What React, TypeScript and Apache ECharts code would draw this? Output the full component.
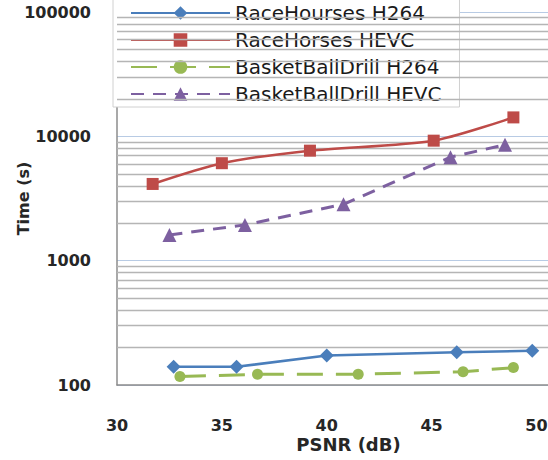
import React, { useEffect, useRef } from "react";
import * as echarts from "echarts";

const SERIES_NAMES = [
  "RaceHourses H264",
  "RaceHorses HEVC",
  "BasketBallDrill H264",
  "BasketBallDrill HEVC",
];

const RH_H264_PSNR = [32.7, 35.7, 40.0, 46.2, 49.8];
const RH_H264_TIME = [140, 140, 173, 183, 189];

const RH_HEVC_PSNR = [31.7, 35.0, 39.2, 45.1, 48.9];
const RH_HEVC_TIME = [4140, 6080, 7670, 9230, 14200];

const BB_H264_PSNR = [33.0, 36.7, 41.5, 46.5, 48.9];
const BB_H264_TIME = [117, 122, 122, 128, 138];

const BB_HEVC_PSNR = [32.5, 36.1, 40.8, 45.9, 48.5];
const BB_HEVC_TIME = [1610, 1940, 2840, 6800, 8550];

const X_TICKS = [30, 35, 40, 45, 50];
const Y_TICKS = [100, 1000, 10000, 100000];
const MINOR_GRID = [
  200, 300, 400, 500, 600, 700, 800, 900,
  2000, 3000, 4000, 5000, 6000, 7000, 8000, 9000,
  20000, 30000, 40000, 50000, 60000, 70000, 80000, 90000,
];

const COLORS = ["#4a7ebb", "#be4b48", "#98b954", "#7d60a0"];

const zip = (xs: number[], ys: number[]) => xs.map((x, i) => [x, ys[i]]);

export default function App() {
  const ref = useRef<HTMLDivElement>(null);
  useEffect(() => {
    if (!ref.current) return;
    const chart = echarts.init(ref.current, null, { renderer: "svg" });
    const tickFont = {
      fontFamily: "DejaVu Sans",
      fontWeight: "bold" as const,
      fontSize: 16,
      color: "#262626",
    };
    chart.setOption({
      animation: false,
      backgroundColor: "#ffffff",
      grid: {
        left: 117,
        top: 12,
        right: 0,
        bottom: 75,
        containLabel: false,
        outerBoundsMode: "none",
      },
      legend: {
        data: SERIES_NAMES,
        orient: "vertical",
        left: 113,
        top: -7,
        padding: [10, 18, 3, 17],
        itemWidth: 99,
        itemHeight: 17,
        itemGap: 7,
        backgroundColor: "#ffffff",
        borderColor: "#d0d0d0",
        borderWidth: 1,
        textStyle: {
          fontFamily: "DejaVu Sans",
          fontSize: 20,
          lineHeight: 20,
          color: "#1a1a1a",
        },
      },
      xAxis: {
        type: "value",
        min: X_TICKS[0],
        max: 50.55,
        interval: 5,
        name: "PSNR (dB)",
        nameLocation: "middle",
        nameGap: 50,
        nameMoveOverlap: false,
        nameTextStyle: {
          fontFamily: "DejaVu Sans",
          fontWeight: "bold",
          fontSize: 18,
          color: "#262626",
          padding: [0, 0, 0, 32],
        },
        axisLine: { show: true, lineStyle: { color: "#8c8c8c", width: 1.5 } },
        axisTick: { show: false },
        splitLine: { show: false },
        axisLabel: {
          ...tickFont,
          margin: 32,
          showMaxLabel: false,
          formatter: (v: number) => (X_TICKS.includes(v) ? String(v) : ""),
        },
      },
      yAxis: {
        type: "log",
        logBase: 10,
        min: Y_TICKS[0],
        max: Y_TICKS[Y_TICKS.length - 1],
        name: "Time (s)",
        nameLocation: "middle",
        nameGap: 86,
        nameRotate: 90,
        nameMoveOverlap: false,
        nameTextStyle: {
          fontFamily: "DejaVu Sans",
          fontWeight: "bold",
          fontSize: 16,
          color: "#262626",
        },
        axisLine: { show: true, lineStyle: { color: "#8c8c8c", width: 1.5 } },
        axisTick: { show: false },
        axisLabel: {
          ...tickFont,
          margin: 26,
          formatter: (v: number) => String(Math.round(v)),
        },
        splitLine: { show: true, lineStyle: { color: "#b8cbe4", width: 1.2 } },
      },
      series: [
        {
          name: "_minor",
          type: "line",
          data: [],
          z: 1,
          silent: true,
          markLine: {
            silent: true,
            symbol: "none",
            label: { show: false },
            lineStyle: { color: "#b5b5b5", width: 1.3, type: "solid" },
            data: MINOR_GRID.map((v) => ({ yAxis: v })),
          },
        },
        {
          name: SERIES_NAMES[0],
          type: "line",
          data: zip(RH_H264_PSNR, RH_H264_TIME),
          symbol: "diamond",
          symbolSize: 14,
          color: COLORS[0],
          lineStyle: { color: COLORS[0], width: 2.5 },
          itemStyle: { color: COLORS[0] },
          z: 5,
        },
        {
          name: SERIES_NAMES[1],
          type: "line",
          data: zip(RH_HEVC_PSNR, RH_HEVC_TIME),
          symbol: "rect",
          symbolSize: 12,
          smooth: 0.25,
          color: COLORS[1],
          lineStyle: { color: COLORS[1], width: 2.5 },
          itemStyle: { color: COLORS[1] },
          z: 5,
        },
        {
          name: SERIES_NAMES[2],
          type: "line",
          data: zip(BB_H264_PSNR, BB_H264_TIME),
          symbol: "circle",
          symbolSize: 11,
          color: COLORS[2],
          lineStyle: { color: COLORS[2], width: 3, type: [26, 13] },
          itemStyle: { color: COLORS[2] },
          z: 5,
        },
        {
          name: SERIES_NAMES[3],
          type: "line",
          data: zip(BB_HEVC_PSNR, BB_HEVC_TIME),
          symbol: "triangle",
          symbolSize: 14,
          color: COLORS[3],
          lineStyle: { color: COLORS[3], width: 3, type: [13, 9] },
          itemStyle: { color: COLORS[3] },
          z: 5,
        },
      ],
    });
    return () => chart.dispose();
  }, []);
  return (
    <div
      ref={ref}
      style={{ position: "fixed", left: 0, top: 0, width: 548, height: 460 }}
    />
  );
}
